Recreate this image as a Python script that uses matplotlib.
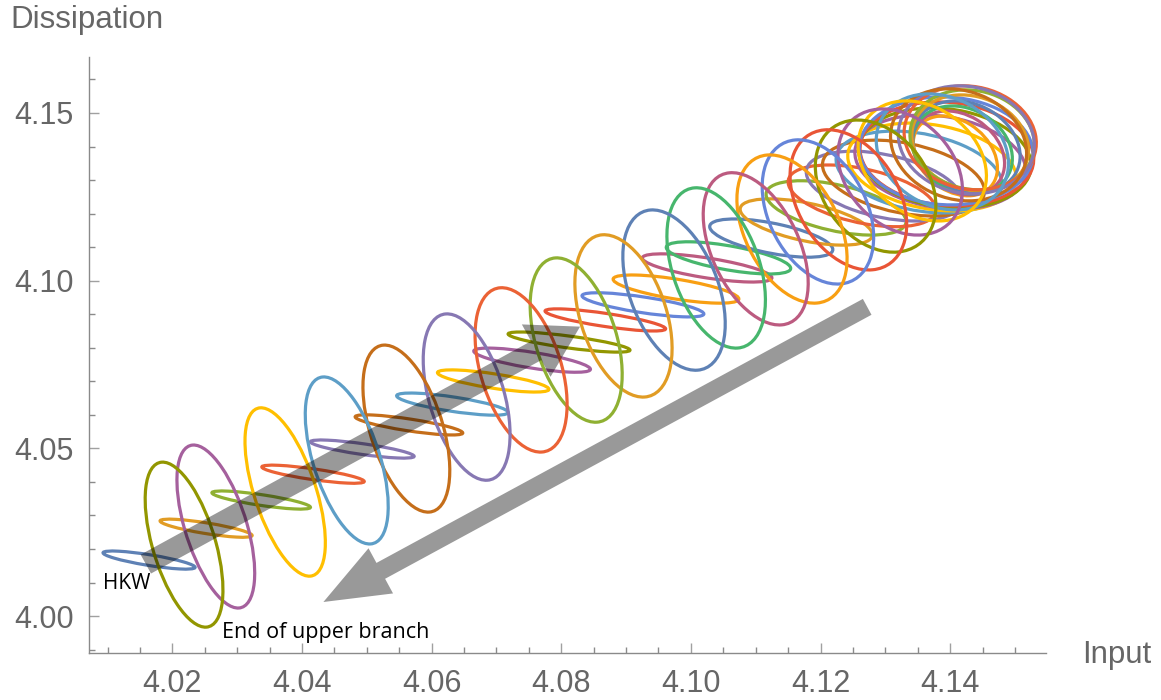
import numpy as np
import matplotlib
matplotlib.use("Agg")
import matplotlib.pyplot as plt
from matplotlib.patches import Ellipse, FancyArrowPatch
from matplotlib.ticker import MultipleLocator

# Mathematica default plot colours (ColorData[97])
palette = ["#5E81B5", "#E19C24", "#8FB032", "#EB6235", "#8778B3",
           "#C56E1A", "#5D9EC7", "#FFBF00", "#A5609D", "#929600",
           "#E95536", "#6685D9", "#F89F13", "#BC5B80", "#47B66D"]

# orbits along the band, starting at HKW (centre, half extent in x / y, tilt)
band_cx = [4.0164, 4.0252, 4.0337, 4.0417, 4.0493, 4.0565, 4.0632, 4.0695, 4.0755,
           4.0812, 4.0868, 4.0926, 4.0977, 4.1025, 4.1058, 4.1124, 4.1178, 4.1224,
           4.1264, 4.1298, 4.1328, 4.1352, 4.1372, 4.1385, 4.1392, 4.1395, 4.1394]
band_cy = [4.0167, 4.0262, 4.0346, 4.0423, 4.0498, 4.0570, 4.0632, 4.0701, 4.0763,
           4.0817, 4.0883, 4.0928, 4.0975, 4.1038, 4.1068, 4.1127, 4.1175, 4.1217,
           4.1253, 4.1282, 4.1306, 4.1324, 4.1339, 4.1354, 4.1366, 4.1378, 4.1387]
band_rx = [0.0071, 0.0071, 0.0076, 0.0079, 0.0080, 0.0083, 0.0086, 0.0086, 0.0090,
           0.0094, 0.0093, 0.0094, 0.0097, 0.0100, 0.0096, 0.0095, 0.0102, 0.0108,
           0.0114, 0.0120, 0.0125, 0.0128, 0.0130, 0.0132, 0.0133, 0.0134, 0.0134]
band_ry = [0.0027, 0.0027, 0.0027, 0.0027, 0.0027, 0.0030, 0.0033, 0.0033, 0.0036,
           0.0030, 0.0033, 0.0036, 0.0042, 0.0042, 0.0048, 0.0057, 0.0069, 0.0081,
           0.0092, 0.0104, 0.0113, 0.0122, 0.0131, 0.0140, 0.0149, 0.0155, 0.0161]
band_rho = [-0.8, -0.8, -0.8, -0.8, -0.8, -0.8, -0.75, -0.75, -0.75,
            -0.8, -0.8, -0.75, -0.7, -0.7, -0.65, -0.6, -0.55, -0.5,
            -0.45, -0.4, -0.35, -0.3, -0.25, -0.2, -0.15, -0.1, -0.05]

# orbits on the way down, listed from the end of the upper branch upwards
down_cx = [4.0218, 4.0267, 4.0374, 4.0469, 4.0561, 4.0654, 4.0738, 4.0823, 4.0896,
           4.0974, 4.1039, 4.1100, 4.1156, 4.1196, 4.1243, 4.1285, 4.1323, 4.1357,
           4.1388, 4.1413, 4.1425, 4.1431, 4.1434, 4.1431, 4.1425, 4.1419, 4.1413, 4.1408]
down_cy = [4.0213, 4.0267, 4.0370, 4.0464, 4.0559, 4.0653, 4.0734, 4.0823, 4.0895,
           4.0972, 4.1038, 4.1095, 4.1154, 4.1205, 4.1241, 4.1282, 4.1324, 4.1357,
           4.1384, 4.1405, 4.1420, 4.1426, 4.1420, 4.1411, 4.1399, 4.1390, 4.1381, 4.1372]
down_rx = [0.0060, 0.0060, 0.0062, 0.0064, 0.0067, 0.0067, 0.0071, 0.0071, 0.0075,
           0.0079, 0.0076, 0.0081, 0.0085, 0.0086, 0.0090, 0.0093, 0.0096, 0.0099,
           0.0102, 0.0105, 0.0105, 0.0102, 0.0096, 0.0090, 0.0083, 0.0077, 0.0071, 0.0065]
down_ry = [0.0246, 0.0243, 0.0251, 0.0249, 0.0249, 0.0248, 0.0245, 0.0245, 0.0242,
           0.0239, 0.0239, 0.0227, 0.0221, 0.0215, 0.0209, 0.0197, 0.0188, 0.0179,
           0.0173, 0.0167, 0.0161, 0.0155, 0.0149, 0.0143, 0.0137, 0.0131, 0.0125, 0.0119]
down_rho = [-0.55, -0.57, -0.6, -0.55, -0.5, -0.45, -0.42, -0.42, -0.4,
            -0.42, -0.4, -0.45, -0.4, -0.35, -0.35, -0.3, -0.28, -0.25,
            -0.2, -0.15, -0.1, -0.1, -0.1, -0.15, -0.2, -0.2, -0.25, -0.3]

# plotting order: up the band, then back down
cx = band_cx + down_cx[::-1]
cy = band_cy + down_cy[::-1]
rx = band_rx + down_rx[::-1]
ry = band_ry + down_ry[::-1]
rho = band_rho + down_rho[::-1]

xticks = [4.02, 4.04, 4.06, 4.08, 4.10, 4.12, 4.14]
yticks = [4.00, 4.05, 4.10, 4.15]

fig = plt.figure(figsize=(11.61, 7.0), dpi=100)
ax = fig.add_axes([0.0767, 0.0667, 0.9010 - 0.0767, 0.9186 - 0.0667])
ax.set_xlim(4.00714, 4.1548)
ax.set_ylim(3.9889, 4.1667)

for i in range(len(cx)):
    # ellipse with the given x/y extents and correlation
    cov = np.array([[rx[i] ** 2, rho[i] * rx[i] * ry[i]],
                    [rho[i] * rx[i] * ry[i], ry[i] ** 2]])
    w, v = np.linalg.eigh(cov)
    ang = np.degrees(np.arctan2(v[1, 1], v[0, 1]))
    e = Ellipse((cx[i], cy[i]), 2 * np.sqrt(w[1]), 2 * np.sqrt(w[0]), angle=ang,
                fill=False, edgecolor=palette[i % 15], lw=2.3, zorder=2)
    ax.add_patch(e)

band = FancyArrowPatch((4.0159, 4.0155), (4.0829, 4.0863),
                       arrowstyle="simple,head_width=43,head_length=36,tail_width=15.5",
                       mutation_scale=1, shrinkA=0, shrinkB=0,
                       color="black", alpha=0.4, lw=0, zorder=5)
ax.add_patch(band)
down = FancyArrowPatch((4.1272, 4.0922), (4.0433, 4.0042),
                       arrowstyle="simple,head_width=37,head_length=47,tail_width=13",
                       mutation_scale=1, shrinkA=0, shrinkB=0,
                       color="#999999", lw=0, zorder=5)
ax.add_patch(down)

ax.text(4.0093, 4.0098, "HKW", fontsize=15, family="Open Sans", va="center", ha="left")
ax.text(4.0277, 3.9952, "End of upper branch", fontsize=15.5, family="Open Sans",
        va="center", ha="left")

for s in ["top", "right"]:
    ax.spines[s].set_visible(False)
for s in ["left", "bottom"]:
    ax.spines[s].set_color("#8a8a8a")
    ax.spines[s].set_linewidth(1.0)

ax.set_xticks(xticks)
ax.set_xticklabels([f"{t:.2f}" for t in xticks])
ax.set_yticks(yticks)
ax.set_yticklabels([f"{t:.2f}" for t in yticks])
ax.xaxis.set_minor_locator(MultipleLocator(0.005))
ax.yaxis.set_minor_locator(MultipleLocator(0.01))
ax.tick_params(which="major", direction="in", length=7.5, width=1, color="#a0a0a0",
               labelsize=22, labelcolor="#666666", pad=11)
ax.tick_params(which="minor", direction="in", length=4, width=1, color="#8a8a8a")
for lab in ax.get_xticklabels() + ax.get_yticklabels():
    lab.set_family("Liberation Sans")

fig.text(10 / 1161, 1 - 20 / 700, "Dissipation", fontsize=22.5, color="#666666",
         family="Liberation Sans", va="center", ha="left")
fig.text(1082 / 1161, 1 - 655 / 700, "Input", fontsize=22.5, color="#666666",
         family="Liberation Sans", va="center", ha="left")

fig.savefig("out.png", dpi=100)
